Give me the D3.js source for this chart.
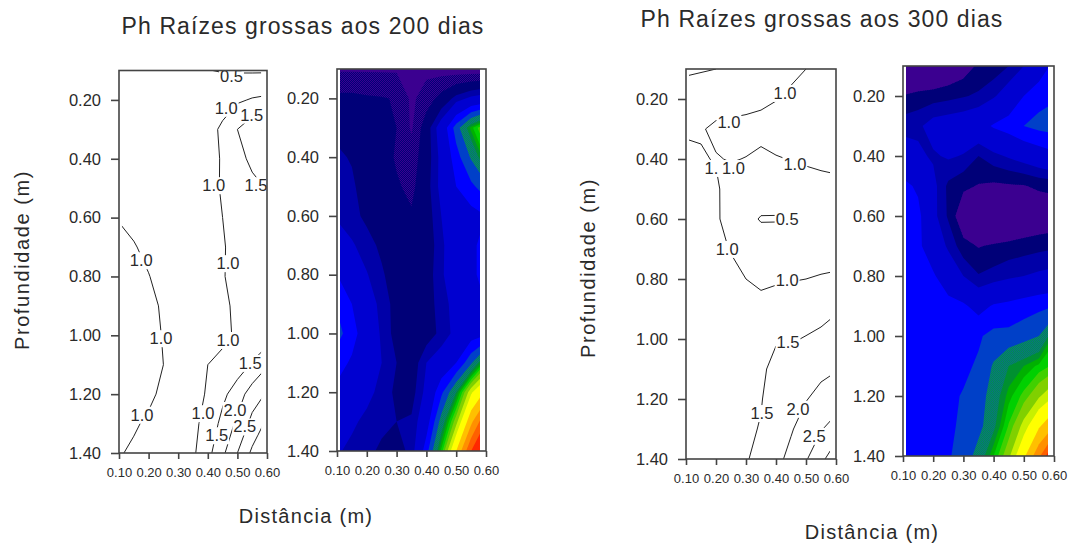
<!DOCTYPE html>
<html>
<head>
<meta charset="utf-8">
<script src="https://cdn.jsdelivr.net/npm/d3@7"></script>
<style>
  body { margin: 0; background: #fff; }
  text { font-family: "Liberation Sans", Arial, sans-serif; fill: #2a2a2a; }
</style>
</head>
<body>
<div id="chart"></div>
<script>
// grid of the measurements
var distances = [0.10, 0.15, 0.20, 0.25, 0.30, 0.35, 0.40, 0.45, 0.50, 0.55, 0.60];
var depths = [0.10, 0.20, 0.30, 0.40, 0.50, 0.60, 0.70, 0.80, 0.90, 1.00, 1.10, 1.20, 1.30, 1.40];

// Ph, one row per depth
var ph200 = [
  [0.53, 0.53, 0.53, 0.53, 0.53, 0.52, 0.51, 0.48, 0.46, 0.45, 0.45],
  [0.74, 0.74, 0.72, 0.71, 0.69, 0.52, 0.62, 0.76, 0.93, 1.04, 1.10],
  [0.85, 0.85, 0.78, 0.75, 0.70, 0.53, 0.80, 1.10, 1.50, 1.85, 2.08],
  [0.90, 0.87, 0.80, 0.78, 0.68, 0.62, 0.80, 1.05, 1.35, 1.60, 1.90],
  [0.92, 0.90, 0.82, 0.78, 0.72, 0.66, 0.82, 1.05, 1.25, 1.38, 1.52],
  [0.98, 0.92, 0.85, 0.80, 0.75, 0.72, 0.80, 1.00, 1.12, 1.18, 1.25],
  [1.10, 1.02, 0.93, 0.85, 0.78, 0.74, 0.78, 0.97, 1.12, 1.22, 1.30],
  [1.25, 1.15, 1.01, 0.90, 0.80, 0.74, 0.80, 0.98, 1.10, 1.22, 1.30],
  [1.40, 1.25, 1.08, 0.96, 0.82, 0.74, 0.80, 0.95, 1.05, 1.17, 1.25],
  [1.48, 1.33, 1.12, 0.98, 0.82, 0.75, 0.80, 0.92, 1.05, 1.15, 1.22],
  [1.33, 1.22, 1.10, 1.00, 0.88, 0.78, 1.00, 1.10, 1.25, 1.55, 1.95],
  [1.20, 1.15, 1.05, 0.95, 0.85, 0.82, 1.05, 1.38, 1.75, 2.25, 2.55],
  [1.12, 1.03, 0.96, 0.92, 0.88, 0.90, 1.15, 1.65, 2.10, 2.65, 3.10],
  [1.02, 0.96, 0.92, 0.85, 0.82, 0.92, 1.35, 1.90, 2.50, 3.10, 3.60]
];
var ph300 = [
  [0.42, 0.46, 0.50, 0.58, 0.66, 0.78, 0.80, 0.88, 1.00, 1.13, 1.30],
  [0.76, 0.80, 0.82, 0.84, 0.87, 0.90, 0.98, 1.10, 1.25, 1.36, 1.40],
  [0.95, 0.97, 1.07, 1.10, 1.12, 1.17, 1.27, 1.33, 1.42, 1.47, 1.49],
  [1.10, 1.03, 0.98, 1.02, 0.99, 0.88, 0.96, 1.02, 1.08, 1.14, 1.20],
  [1.30, 1.22, 1.05, 0.85, 0.78, 0.74, 0.72, 0.73, 0.74, 0.78, 0.80],
  [1.37, 1.30, 1.05, 0.86, 0.62, 0.47, 0.47, 0.47, 0.56, 0.60, 0.62],
  [1.38, 1.30, 1.10, 0.98, 0.80, 0.74, 0.77, 0.80, 0.82, 0.84, 0.86],
  [1.39, 1.37, 1.28, 1.10, 1.00, 0.89, 0.93, 0.97, 1.00, 1.03, 1.05],
  [1.39, 1.39, 1.37, 1.33, 1.28, 1.18, 1.27, 1.30, 1.34, 1.38, 1.42],
  [1.38, 1.38, 1.37, 1.37, 1.37, 1.40, 1.47, 1.47, 1.52, 1.58, 1.85],
  [1.36, 1.36, 1.36, 1.37, 1.39, 1.44, 1.60, 1.75, 1.82, 1.90, 1.97],
  [1.34, 1.35, 1.36, 1.39, 1.43, 1.48, 1.68, 1.85, 1.98, 2.13, 2.28],
  [1.33, 1.34, 1.35, 1.40, 1.44, 1.52, 1.72, 1.96, 2.20, 2.47, 2.70],
  [1.32, 1.33, 1.35, 1.41, 1.46, 1.66, 1.88, 2.12, 2.46, 2.85, 3.40]
];

var lineLevels = [0.5, 1.0, 1.5, 2.0, 2.5, 3.0];
var fillLevels = [0.88, 1.0, 1.25, 1.42, 1.58, 1.75, 1.82, 1.88, 1.95, 2.03, 2.15, 2.28, 2.5, 2.7, 2.9, 3.1];
var lowLevels200 = [0.55, 0.7];
var lowLevels300 = [0.75, 0.75];

var xTicks = [0.10, 0.20, 0.30, 0.40, 0.50, 0.60];
var yTicks = [0.20, 0.40, 0.60, 0.80, 1.00, 1.20, 1.40];

// contour labels: distance, depth, text
var labels200 = [
  [0.48, 0.12, "0.5"], [0.462, 0.227, "1.0"], [0.548, 0.25, "1.5"], [0.42, 0.49, "1.0"], [0.563, 0.49, "1.5"],
  [0.175, 0.745, "1.0"], [0.468, 0.755, "1.0"], [0.242, 1.01, "1.0"], [0.468, 1.016, "1.0"],
  [0.543, 1.094, "1.5"], [0.178, 1.27, "1.0"], [0.384, 1.265, "1.0"], [0.492, 1.254, "2.0"],
  [0.525, 1.31, "2.5"], [0.43, 1.34, "1.5"]
];
var labels300 = [
  [0.43, 0.18, "1.0"], [0.243, 0.277, "1.0"], [0.185, 0.43, "1."], [0.258, 0.43, "1.0"], [0.463, 0.417, "1.0"],
  [0.437, 0.60, "0.5"], [0.237, 0.70, "1.0"], [0.437, 0.803, "1.0"], [0.44, 1.01, "1.5"],
  [0.353, 1.247, "1.5"], [0.473, 1.233, "2.0"], [0.527, 1.323, "2.5"]
];

var bandColors = ["#3b0090", "url(#ditherPurple)", "#000078", "#0000a8", "#0000d0", "#0000ff", "#0040c8",
  "url(#ditherTeal)", "#009030", "#00b000", "#00d000", "#40d000", "#80d000", "#c8f000", "#ffff00",
  "#ffc000", "#ff9000", "#ff6000", "#ff2800"];

var svg = d3.select("#chart")
  .append("svg")
  .attr("width", 1080)
  .attr("height", 548);

var defs = svg.append("defs");

function addDither(id, a, b) {
  var p = defs.append("pattern")
    .attr("id", id)
    .attr("width", 2)
    .attr("height", 2)
    .attr("patternUnits", "userSpaceOnUse");
  p.append("rect").attr("width", 2).attr("height", 2).attr("fill", a);
  p.append("rect").attr("width", 1).attr("height", 1).attr("fill", b);
  p.append("rect").attr("x", 1).attr("y", 1).attr("width", 1).attr("height", 1).attr("fill", b);
}
addDither("ditherPurple", "#000078", "#3b0090");
addDither("ditherTeal", "#0a6f80", "#009050");

var clipCount = 0;

// scales and axes of one panel, returns what the marks need
function makePanel(box) {
  var x = d3.scaleLinear().domain([0.10, 0.60]).range([box.left, box.right]);
  var y = d3.scaleLinear().domain([0.10, 1.40]).range([box.top, box.bottom]);

  // d3.contours puts the sample i at i + 0.5
  var projection = d3.geoTransform({
    point: function(cx, cy) {
      this.stream.point(
        x(distances[0] + (cx - 0.5) * (distances[1] - distances[0])),
        y(depths[0] + (cy - 0.5) * (depths[1] - depths[0]))
      );
    }
  });

  clipCount += 1;
  var clipId = "clip" + clipCount;
  defs.append("clipPath")
    .attr("id", clipId)
    .append("rect")
    .attr("x", x(0.11))
    .attr("y", y(0.10))
    .attr("width", x(0.58) - x(0.11))
    .attr("height", y(1.40) - y(0.10));

  return { x: x, y: y, path: d3.geoPath(projection), clipId: clipId };
}

function drawFrame(panel, box) {
  var bottomAxis = d3.axisBottom(panel.x)
    .tickValues(xTicks)
    .tickFormat(d3.format(".2f"))
    .tickSize(6)
    .tickPadding(9);
  var leftAxis = d3.axisLeft(panel.y)
    .tickValues(yTicks)
    .tickFormat(d3.format(".2f"))
    .tickSize(8)
    .tickPadding(10);

  var xAxis = svg.append("g")
    .attr("transform", `translate(0, ${box.bottom})`)
    .call(bottomAxis);
  var yAxis = svg.append("g")
    .attr("transform", `translate(${box.left}, 0)`)
    .call(leftAxis);

  xAxis.selectAll("text").attr("font-size", 13);
  yAxis.selectAll("text").attr("font-size", 16.5);
  xAxis.select(".domain").remove();
  yAxis.select(".domain").remove();
  svg.selectAll("g .tick line").attr("stroke", "#444").attr("stroke-width", 1.6);

  svg.append("rect")
    .attr("x", box.left)
    .attr("y", box.top)
    .attr("width", box.right - box.left)
    .attr("height", box.bottom - box.top)
    .attr("fill", "none")
    .attr("stroke", "#444")
    .attr("stroke-width", 1.6);
}

function drawLines(box, grid, labels) {
  var panel = makePanel(box);
  var values = d3.merge(grid);
  var contours = d3.contours()
    .size([distances.length, depths.length])
    .thresholds(lineLevels)(values);

  svg.append("g")
    .attr("clip-path", `url(#${panel.clipId})`)
    .selectAll("path")
    .data(contours)
    .enter()
    .append("path")
    .attr("d", panel.path)
    .attr("fill", "none")
    .attr("stroke", "#222")
    .attr("stroke-width", 1);

  // white box under each label opens a gap in its line
  var labelGroup = svg.append("g");
  var labelTexts = labelGroup.selectAll("text")
    .data(labels)
    .enter()
    .append("text")
    .attr("x", d => panel.x(d[0]))
    .attr("y", d => panel.y(d[1]))
    .attr("dy", "0.36em")
    .attr("text-anchor", "middle")
    .attr("font-size", 16.5)
    .text(d => d[2]);

  labelTexts.each(function() {
    var b = this.getBBox();
    labelGroup.insert("rect", "text")
      .attr("x", b.x - 1)
      .attr("y", b.y + 1)
      .attr("width", b.width + 2)
      .attr("height", b.height - 1)
      .attr("fill", "#fff");
  });

  drawFrame(panel, box);
}

function drawFill(box, grid, lowLevels) {
  var panel = makePanel(box);
  var values = d3.merge(grid);
  var levels = lowLevels.concat(fillLevels);
  var contours = d3.contours()
    .size([distances.length, depths.length])
    .thresholds(levels)(values);

  var fillGroup = svg.append("g")
    .attr("clip-path", `url(#${panel.clipId})`);

  fillGroup.append("rect")
    .attr("x", box.left)
    .attr("y", box.top)
    .attr("width", box.right - box.left)
    .attr("height", box.bottom - box.top)
    .attr("fill", bandColors[0]);

  fillGroup.selectAll("path")
    .data(contours)
    .enter()
    .append("path")
    .attr("d", panel.path)
    .attr("fill", (d, i) => bandColors[i + 1]);

  drawFrame(panel, box);
}

function addText(label, x, y, size, spacing, rotate) {
  var t = svg.append("text")
    .attr("text-anchor", "middle")
    .attr("font-size", size)
    .attr("letter-spacing", spacing)
    .text(label);
  if (rotate) {
    t.attr("transform", `translate(${x}, ${y}) rotate(-90)`);
  } else {
    t.attr("x", x).attr("y", y);
  }
}

drawLines({ left: 119, right: 267, top: 70.5, bottom: 453 }, ph200, labels200);
drawFill({ left: 337, right: 486, top: 69, bottom: 451 }, ph200, lowLevels200);
drawLines({ left: 686, right: 836, top: 69, bottom: 459 }, ph300, labels300);
drawFill({ left: 903, right: 1054, top: 66, bottom: 456 }, ph300, lowLevels300);

addText("Ph Raízes  grossas aos 200 dias", 303, 34, 23, 1.1);
addText("Ph Raízes grossas aos 300 dias", 822, 27, 23, 1.1);
addText("Distância (m)", 306, 523, 20, 1.3);
addText("Distância (m)", 872, 539, 20, 1.3);
addText("Profundidade (m)", 29, 260, 20, 1.6, true);
addText("Profundidade (m)", 595, 268, 20, 1.6, true);
</script>
</body>
</html>
